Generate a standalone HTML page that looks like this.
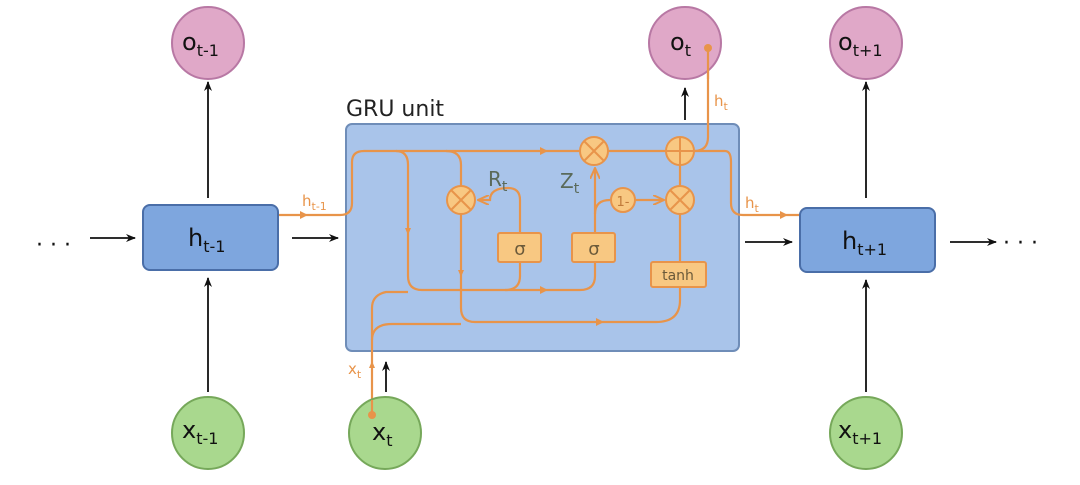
<!DOCTYPE html>
<html><head><meta charset="utf-8"><style>
body{margin:0;background:#fff;width:1080px;height:480px;overflow:hidden}
text{font-family:"DejaVu Sans","Liberation Sans",sans-serif}
</style></head><body>
<svg width="1080" height="480" viewBox="0 0 1080 480" xmlns="http://www.w3.org/2000/svg">
<defs>
<marker id="ab" markerWidth="10" markerHeight="8" refX="9" refY="4" orient="auto" markerUnits="userSpaceOnUse"><path d="M0,0 L10,4 L0,8 L3,4z" fill="#111"/></marker>
<marker id="ao" markerWidth="12" markerHeight="10" refX="11" refY="5" orient="auto" markerUnits="userSpaceOnUse"><path d="M0,0 L11,5 L0,10" fill="none" stroke="#e8944a" stroke-width="2"/></marker>
<marker id="am" markerWidth="8" markerHeight="8" refX="4" refY="4" orient="auto" markerUnits="userSpaceOnUse"><path d="M0,0 L8,4 L0,8z" fill="#e8944a"/></marker>
</defs>
<!-- GRU box -->
<rect x="346" y="124" width="393" height="227" rx="6" fill="#a9c4ea" stroke="#6f8db8" stroke-width="2"/>
<text x="346" y="116" font-size="22" fill="#222">GRU unit</text>
<!-- black arrows -->
<g stroke="#111" stroke-width="1.8" fill="none" marker-end="url(#ab)">
<line x1="90" y1="238" x2="135" y2="238"/>
<line x1="292" y1="238" x2="338" y2="238"/>
<line x1="745" y1="242" x2="792" y2="242"/>
<line x1="950" y1="242" x2="996" y2="242"/>
<line x1="208" y1="198" x2="208" y2="82"/>
<line x1="208" y1="392" x2="208" y2="278"/>
<line x1="866" y1="198" x2="866" y2="82"/>
<line x1="866" y1="392" x2="866" y2="280"/>
<line x1="685" y1="120" x2="685" y2="88"/>
<line x1="386" y1="392" x2="386" y2="362"/>
</g>
<text x="36" y="252" font-size="22" fill="#111">· · ·</text>
<text x="1003" y="250" font-size="22" fill="#111">· · ·</text>
<!-- orange lines -->
<g stroke="#e8944a" stroke-width="2.2" fill="none">
<path d="M258,215 H340 Q352,215 352,203 V162 Q352,151 364,151 H725 Q731,151 731,162 V203 Q731,215 743,215 H812"/>
<path d="M396,151 Q408,151 408,165 V276 Q408,290 422,290 H580 Q595,290 595,276 V262"/>
<path d="M446,151 Q461,151 461,165 V186"/>
<path d="M461,214 V308 Q461,322 475,322 H656 Q680,322 680,300 V287"/>
<path d="M520,262 V276 Q520,290 505,290"/>
<path d="M520,233 V200 Q520,188 508,188 Q490,188 490,200 H478" marker-end="url(#ao)"/>
<path d="M595,233 V168" marker-end="url(#ao)"/>
<path d="M595,214 Q595,200 610,200"/>
<path d="M634,200 H664" marker-end="url(#ao)"/>
<path d="M680,262 V214"/>
<path d="M680,186 V165"/>
<path d="M694,151 Q708,151 708,137 V48"/>
<path d="M372,415 V308 Q372,295 386,292 H408"/>
<path d="M372,340 Q372,324 392,324 H461"/>
</g>
<g fill="#e8944a"><circle cx="258" cy="215" r="4"/><circle cx="708" cy="48" r="4"/><circle cx="372" cy="415" r="4"/>
<path d="M405,228 l3,7 l3,-7z"/><path d="M458,270 l3,7 l3,-7z"/><path d="M540,147 l8,4 l-8,4z"/><path d="M540,286 l8,4 l-8,4z"/><path d="M596,318 l8,4 l-8,4z"/><path d="M300,211 l8,4 l-8,4z"/><path d="M780,211 l8,4 l-8,4z"/><path d="M369,368 l3,-7 l3,7z"/>
</g>
<!-- ops -->
<g stroke="#e8944a" stroke-width="2" fill="#f8c882">
<circle cx="461" cy="200" r="14"/><circle cx="594" cy="151" r="14"/><circle cx="680" cy="151" r="14"/><circle cx="680" cy="200" r="14"/><circle cx="623" cy="200" r="12"/>
<rect x="498" y="233" width="43" height="29" rx="2"/><rect x="572" y="233" width="43" height="29" rx="2"/><rect x="651" y="262" width="55" height="25" rx="2"/>
</g>
<g stroke="#e8944a" stroke-width="2">
<path d="M451,190 L471,210 M471,190 L451,210"/><path d="M584,141 L604,161 M604,141 L584,161"/><path d="M670,190 L690,210 M690,190 L670,210"/><path d="M680,137 V165 M666,151 H694"/>
</g>
<g fill="#6b5a3a" font-size="18" text-anchor="middle">
<text x="520" y="255">σ</text><text x="594" y="255">σ</text><text x="678" y="280" font-size="14">tanh</text><text x="623" y="206" font-size="13" fill="#c07a3a">1-</text>
</g>
<text x="488" y="186" font-size="20" fill="#5a6a5a">R<tspan font-size="14" dy="5">t</tspan></text>
<text x="560" y="188" font-size="20" fill="#5a6a5a">Z<tspan font-size="14" dy="5">t</tspan></text>
<g fill="#e8944a" font-size="15">
<text x="302" y="206">h<tspan font-size="11" dy="4">t-1</tspan></text>
<text x="745" y="208">h<tspan font-size="11" dy="4">t</tspan></text>
<text x="714" y="106">h<tspan font-size="11" dy="4">t</tspan></text>
<text x="348" y="374">x<tspan font-size="11" dy="4">t</tspan></text>
</g>
<!-- h boxes -->
<g fill="#7ea6de" stroke="#4a6ea8" stroke-width="2">
<rect x="143" y="205" width="135" height="65" rx="7"/><rect x="800" y="208" width="135" height="64" rx="7"/>
</g>
<g font-size="24" fill="#111">
<text x="188" y="246">h<tspan font-size="16" dy="6">t-1</tspan></text>
<text x="842" y="249">h<tspan font-size="16" dy="6">t+1</tspan></text>
</g>
<!-- o circles -->
<g fill="#e0a8c8" stroke="#b878a4" stroke-width="2">
<circle cx="208" cy="43" r="36"/><circle cx="685" cy="43" r="36"/><circle cx="866" cy="43" r="36"/>
</g>
<!-- x circles -->
<g fill="#a9d88e" stroke="#76a85a" stroke-width="2">
<circle cx="208" cy="433" r="36"/><circle cx="385" cy="433" r="36"/><circle cx="866" cy="433" r="36"/>
</g>
<circle cx="372" cy="415" r="4" fill="#e8944a"/><circle cx="708" cy="48" r="4" fill="#e8944a"/>
<path d="M372,415 V400" stroke="#e8944a" stroke-width="2.2"/>
<path d="M708,48 V79" stroke="#e8944a" stroke-width="2.2"/>
<g font-size="24" fill="#111">
<text x="182" y="50">o<tspan font-size="16" dy="6">t-1</tspan></text>
<text x="670" y="50">o<tspan font-size="16" dy="6">t</tspan></text>
<text x="838" y="50">o<tspan font-size="16" dy="6">t+1</tspan></text>
<text x="182" y="438">x<tspan font-size="16" dy="6">t-1</tspan></text>
<text x="372" y="440">x<tspan font-size="16" dy="6">t</tspan></text>
<text x="838" y="438">x<tspan font-size="16" dy="6">t+1</tspan></text>
</g>
</svg>
</body></html>
